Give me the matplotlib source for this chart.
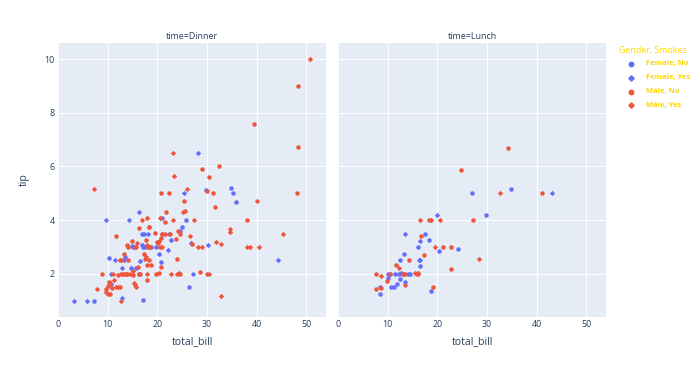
import matplotlib
matplotlib.use("Agg")
import matplotlib.pyplot as plt
from matplotlib.lines import Line2D
import numpy as np

# tips data
total_bill = [
    16.99, 10.34, 21.01, 23.68, 24.59, 25.29, 8.77, 26.88, 15.04, 14.78,
    10.27, 35.26, 15.42, 18.43, 14.83, 21.58, 10.33, 16.29, 16.97, 20.65,
    17.92, 20.29, 15.77, 39.42, 19.82, 17.81, 13.37, 12.69, 21.70, 19.65,
    9.55, 18.35, 15.06, 20.69, 17.78, 24.06, 16.31, 16.93, 18.69, 31.27,
    16.04, 17.46, 13.94, 9.68, 30.40, 18.29, 22.23, 32.40, 28.55, 18.04,
    12.54, 10.29, 34.81, 9.94, 25.56, 19.49, 38.01, 26.41, 11.24, 48.27,
    20.29, 13.81, 11.02, 18.29, 17.59, 20.08, 16.45, 3.07, 20.23, 15.01,
    12.02, 17.07, 26.86, 25.28, 14.73, 10.51, 17.92, 27.20, 22.76, 17.29,
    19.44, 16.66, 10.07, 32.68, 15.98, 34.83, 13.03, 18.28, 24.71, 21.16,
    28.97, 22.49, 5.75, 16.32, 22.75, 40.17, 27.28, 12.03, 21.01, 12.46,
    11.35, 15.38, 44.30, 22.42, 20.92, 15.36, 20.49, 25.21, 18.24, 14.31,
    14.00, 7.25, 38.07, 23.95, 25.71, 17.31, 29.93, 10.65, 12.43, 24.08,
    11.69, 13.42, 14.26, 15.95, 12.48, 29.80, 8.52, 14.52, 11.38, 22.82,
    19.08, 20.27, 11.17, 12.26, 18.26, 8.51, 10.33, 14.15, 16.00, 13.16,
    17.47, 34.30, 41.19, 27.05, 16.43, 8.35, 18.64, 11.87, 9.78, 7.51,
    14.07, 13.13, 17.26, 24.55, 19.77, 29.85, 48.17, 25.00, 13.39, 16.49,
    21.50, 12.66, 16.21, 13.81, 17.51, 24.52, 20.76, 31.71, 10.59, 10.63,
    50.81, 15.81, 7.25, 31.85, 16.82, 32.90, 17.89, 14.48, 9.60, 34.63,
    34.65, 23.33, 45.35, 23.17, 40.55, 20.69, 20.90, 30.46, 18.15, 23.10,
    15.69, 19.81, 28.44, 15.48, 16.58, 7.56, 10.34, 43.11, 13.00, 13.51,
    18.71, 12.74, 13.00, 16.40, 20.53, 16.47, 26.59, 38.73, 24.27, 12.76,
    30.06, 25.89, 48.33, 13.27, 28.17, 12.90, 28.15, 11.59, 7.74, 30.14,
    12.16, 13.42, 8.58, 15.98, 13.42, 16.27, 10.09, 20.45, 13.28, 22.12,
    24.01, 15.69, 11.61, 10.77, 15.53, 10.07, 12.60, 32.83, 35.83, 29.03,
    27.18, 22.67, 17.82, 18.78,
]
tip = [
    1.01, 1.66, 3.50, 3.31, 3.61, 4.71, 2.00, 3.12, 1.96, 3.23,
    1.71, 5.00, 1.57, 3.00, 3.02, 3.92, 1.67, 3.71, 3.50, 3.35,
    4.08, 2.75, 2.23, 7.58, 3.18, 2.34, 2.00, 2.00, 4.30, 3.00,
    1.45, 2.50, 3.00, 2.45, 3.27, 3.60, 2.00, 3.07, 2.31, 5.00,
    2.24, 2.54, 3.06, 1.32, 5.60, 3.00, 5.00, 6.00, 2.05, 3.00,
    2.50, 2.60, 5.20, 1.56, 4.34, 3.51, 3.00, 1.50, 1.76, 6.73,
    3.21, 2.00, 1.98, 3.76, 2.64, 3.15, 2.47, 1.00, 2.01, 2.09,
    1.97, 3.00, 3.14, 5.00, 2.20, 1.25, 3.08, 4.00, 3.00, 2.71,
    3.00, 3.40, 1.83, 5.00, 2.03, 5.17, 2.00, 4.00, 5.85, 3.00,
    3.00, 3.50, 1.00, 4.30, 3.25, 4.73, 4.00, 1.50, 3.00, 1.50,
    2.50, 3.00, 2.50, 3.48, 4.08, 1.64, 4.06, 4.29, 3.76, 4.00,
    3.00, 1.00, 4.00, 2.55, 4.00, 3.50, 5.07, 1.50, 1.80, 2.92,
    2.31, 1.68, 2.50, 2.00, 2.52, 4.20, 1.48, 2.00, 2.00, 2.18,
    1.50, 2.83, 1.50, 2.00, 3.25, 1.25, 2.00, 2.00, 2.00, 2.75,
    3.50, 6.70, 5.00, 5.00, 2.30, 1.50, 1.36, 1.63, 1.73, 2.00,
    2.50, 2.00, 2.74, 2.00, 2.00, 5.14, 5.00, 3.75, 2.61, 2.00,
    3.50, 2.50, 2.00, 2.00, 3.00, 3.48, 2.24, 4.50, 1.61, 2.00,
    10.00, 3.16, 5.15, 3.18, 4.00, 3.11, 2.00, 2.00, 4.00, 3.55,
    3.68, 5.65, 3.50, 6.50, 3.00, 5.00, 3.50, 2.00, 3.50, 4.00,
    1.50, 4.19, 2.56, 2.02, 4.00, 1.44, 2.00, 5.00, 2.00, 2.00,
    4.00, 2.01, 2.00, 2.50, 4.00, 3.23, 3.41, 3.00, 2.03, 2.23,
    2.00, 5.16, 9.00, 2.50, 6.50, 1.10, 3.00, 1.50, 1.44, 3.09,
    2.20, 3.48, 1.92, 3.00, 1.58, 2.50, 2.00, 3.00, 2.72, 2.88,
    2.00, 3.00, 3.39, 1.47, 3.00, 1.25, 1.00, 1.17, 4.67, 5.92,
    2.00, 2.00, 1.75, 3.00,
]
# F = Female, M = Male
sex = list(
    "FMMMFMMMMM" "MFMMFMFMFM" "MFFMMMMMMF" "MMFFMMMFMM" "MMMMMMMMMM"
    "MFFMMMMFMM" "MMMMMMFFMM" "MFFFFMMMMM" "MMFMMFMMMM" "MMFFFMMMMM"
    "FFFFFMMMMF" "MFMMFFMFFF" "MFMMFFMFFM" "MFFFFFFFMF" "FMMFFFFFMM"
    "MMMMMFMFFM" "MMFMFMMMFF" "MMMMMMMMFM" "MMMMMMFMFM" "MFMMMMMFFM"
    "MFFFMFMMMF" "MMMFFFMMMF" "MFMFMFFMMF" "MMMMMMMMFM" "FMMF"
)
# Y = smoker, N = non smoker
smoker = list(
    "NNNNNNNNNN" "NNNNNNNNNN" "NNNNNNNNNN" "NNNNNNNNNN" "NNNNNNNNNN"
    "NNNNNNYNYN" "YYYYNNNYNY" "NNYYNNYNNN" "YNNYNNNNNN" "YNYYNYYYYN"
    "YYYYNYYYNY" "NNNNNNNNNN" "NNNNNNNNNN" "NNNNNNNNYN" "NNNNNNNNNN"
    "NNNNNNNNNN" "NNNNYNNNYY" "YYYYYYYYYY" "YYYYYNYYYY" "YYYYYNYYYY"
    "YYYYYYYYYY" "YYNYYYYYYY" "YYYNYYYNNY" "YYNNYNYYNN" "YYNN"
)
# D = Dinner, L = Lunch
time = list("D" * 77 + "L" * 13 + "D" * 27 + "L" * 33 + "D" * 41
            + "L" * 15 + "D" * 14 + "L" * 7 + "D" * 17)

panels = ["Dinner", "Lunch"]
groups = [("F", "N", "Female, No"), ("F", "Y", "Female, Yes"),
          ("M", "N", "Male, No"), ("M", "Y", "Male, Yes")]
colors = {"F": "#636EFA", "M": "#EF553B"}
markers = {"N": "o", "Y": "D"}
msize = {"N": 10.5, "Y": 7.5}

bill = np.array(total_bill)
tp = np.array(tip)
sx = np.array(sex)
sm = np.array(smoker)
tm = np.array(time)

TXT = "#2a3f5f"
BG = "#E5ECF6"
plt.rcParams["font.family"] = ["Open Sans", "DejaVu Sans"]

fig = plt.figure(figsize=(7, 3.74), dpi=100)
W, H = 700, 374
lefts = [58.3, 338.3]
pw = 267.7
top, bot = 43, 316.7

for i, t in enumerate(panels):
    ax = fig.add_axes([lefts[i] / W, (H - bot) / H, pw / W, (bot - top) / H])
    ax.set_facecolor(BG)
    for s in ax.spines.values():
        s.set_visible(False)
    ax.set_xlim(0, 54.0)
    ax.set_ylim(0.4, 10.6)
    ax.set_xticks([0, 10, 20, 30, 40, 50])
    ax.set_yticks([2, 4, 6, 8, 10])
    ax.grid(True, color="white", lw=0.7)
    ax.set_axisbelow(True)
    ax.tick_params(length=0, labelsize=6.4, labelcolor=TXT, pad=2.5)
    if i == 1:
        ax.tick_params(labelleft=False)
    for sxk, smk, _ in groups:
        m = (tm == t[0]) & (sx == sxk) & (sm == smk)
        ax.scatter(bill[m], tp[m], s=msize[smk], marker=markers[smk],
                   color=colors[sxk], linewidths=0, zorder=3)
    fig.text((lefts[i] + pw / 2) / W, (H - 36.7) / H, "time=" + t,
             ha="center", va="center", fontsize=6.4, color=TXT)
    fig.text((lefts[i] + pw / 2) / W, (H - 341.7) / H, "total_bill",
             ha="center", va="center", fontsize=7.6, color=TXT)

fig.text(24 / W, (H - 180) / H, "tip", rotation=90, ha="center",
         va="center", fontsize=7.6, color=TXT)

# legend
fig.text(619 / W, (H - 51) / H, "Gender, Smokes", ha="left", va="center",
         fontsize=6.4, color="#FFD700")
for k, (sxk, smk, lab) in enumerate(groups):
    y = (H - (64 + 13.8 * k)) / H
    fig.add_artist(Line2D([631 / W], [y], transform=fig.transFigure,
                          marker=markers[smk], color=colors[sxk],
                          markersize=3.2 if smk == "N" else 2.7, lw=0))
    fig.text(645.7 / W, y, lab, ha="left", va="center", fontsize=5.4,
             fontweight="bold", color="#FFD700")

fig.savefig("out.png", dpi=100, facecolor="white")
